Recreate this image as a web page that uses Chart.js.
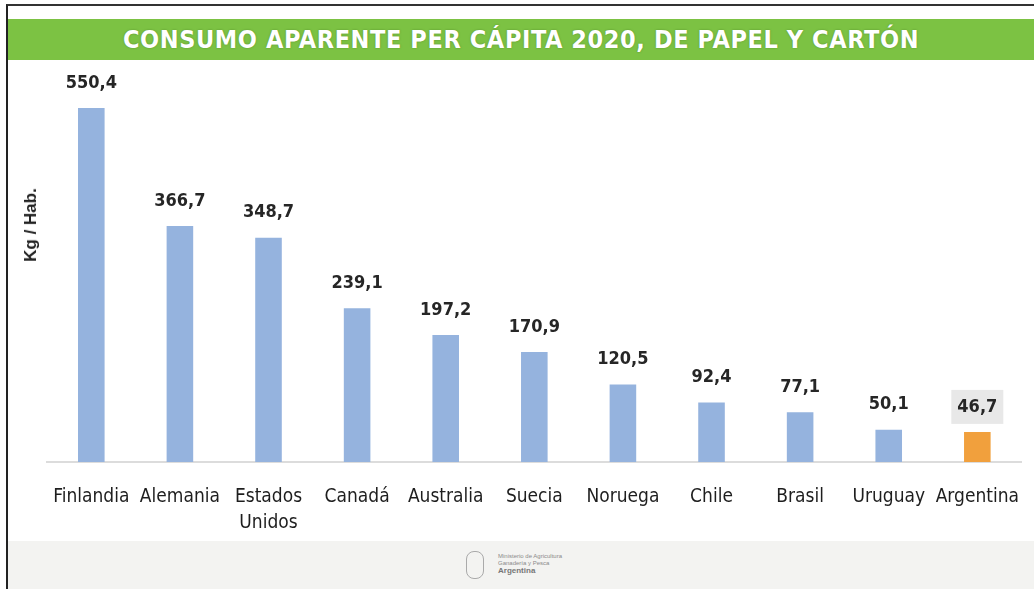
<!DOCTYPE html>
<html>
<head>
<meta charset="utf-8">
<script src="https://cdn.jsdelivr.net/npm/chart.js@4.4.1/dist/chart.umd.min.js"></script>
<style>
  html, body { margin: 0; padding: 0; background: #fff; }
  body { width: 1034px; height: 589px; position: relative; overflow: hidden; }
  #frame { position: absolute; left: 6px; top: 4px; width: 1040px; height: 600px;
           border-left: 2px solid #222; border-top: 2px solid #333; }
  #band { position: absolute; left: 8px; top: 19px; width: 1026px; height: 41px;
          background: #7cc243; color: #fff; text-align: center;
          font: bold 25px "Liberation Sans Narrow", "DejaVu Sans Condensed", sans-serif;
          line-height: 41px; letter-spacing: 0.6px;
          text-shadow: 0 0 2px rgba(60,110,30,0.6); }
  #footer { position: absolute; left: 8px; top: 541px; width: 1026px; height: 48px;
            background: #f3f3f1; z-index: 2; }
  #logo { position: absolute; left: 458px; top: 8px; width: 130px; height: 34px;
          color: #8a8a8a; font: 6px "Liberation Sans", sans-serif; }
  #logo .ico { position: absolute; left: 0; top: 2px; width: 16px; height: 26px;
               border: 1px solid #aaa; border-radius: 8px; }
  #logo .txt { position: absolute; left: 32px; top: 4px; line-height: 7px; }
  #logo b { font-size: 8px; color: #777; }
  #wrap { position: absolute; left: 8px; top: 62px; width: 1033px; height: 496px; }
  #ylab { position: absolute; left: 31px; top: 225px; transform: translate(-50%, -50%) rotate(-90deg);
          font: bold 17px "Liberation Sans", sans-serif; color: #222; white-space: nowrap; }
</style>
</head>
<body>
<div id="frame"></div>
<div id="band">CONSUMO APARENTE PER CÁPITA 2020, DE PAPEL Y CARTÓN</div>
<div id="wrap"><canvas id="chart" width="1033" height="496"></canvas></div>
<div id="ylab">Kg / Hab.</div>
<div id="footer">
  <div id="logo"><div class="ico"></div>
    <div class="txt">Ministerio de Agricultura<br>Ganadería y Pesca<br><b>Argentina</b></div>
  </div>
</div>
<script>
const paises = ['Finlandia', 'Alemania', ['Estados', 'Unidos'], 'Canadá', 'Australia', 'Suecia',
                'Noruega', 'Chile', 'Brasil', 'Uruguay', 'Argentina'];
const consumo = [550.4, 366.7, 348.7, 239.1, 197.2, 170.9, 120.5, 92.4, 77.1, 50.1, 46.7];
const colores = ['#95b3de', '#95b3de', '#95b3de', '#95b3de', '#95b3de', '#95b3de',
                 '#95b3de', '#95b3de', '#95b3de', '#95b3de', '#f1a03d'];

// etiquetas de valor arriba de cada barra
const valorPlugin = {
  id: 'valores',
  afterDatasetsDraw(chart) {
    const ctx = chart.ctx;
    const meta = chart.getDatasetMeta(0);
    ctx.save();
    ctx.font = 'bold 18px "DejaVu Sans Condensed", "Liberation Sans", sans-serif';
    ctx.textAlign = 'center';
    ctx.textBaseline = 'middle';
    meta.data.forEach((bar, i) => {
      const txt = consumo[i].toFixed(1).replace('.', ',');
      const y = bar.y - 25;
      if (i === consumo.length - 1) {
        ctx.fillStyle = '#e8e8e8';
        ctx.fillRect(bar.x - 26, y - 17, 52, 34);
      }
      ctx.fillStyle = '#262626';
      ctx.fillText(txt, bar.x, y);
    });
    ctx.restore();
  }
};

new Chart(document.getElementById('chart'), {
  type: 'bar',
  data: {
    labels: paises,
    datasets: [{
      data: consumo,
      backgroundColor: colores,
      barPercentage: 0.6,
      categoryPercentage: 0.5
    }]
  },
  options: {
    responsive: false,
    animation: false,
    layout: { padding: { left: 39, right: 0, top: 14, bottom: 0 } },
    plugins: { legend: { display: false }, tooltip: { enabled: false } },
    scales: {
      x: {
        grid: { display: false, drawTicks: false },
        border: { display: true, color: '#dcdcdc', width: 2 },
        ticks: {
          padding: 22,
          color: '#1e1e1e',
          maxRotation: 0,
          autoSkip: false,
          font: { size: 19, family: '"DejaVu Sans Condensed", sans-serif', lineHeight: 1.37 }
        }
      },
      y: {
        display: false,
        min: 0,
        max: 600
      }
    }
  },
  plugins: [valorPlugin]
});
</script>
</body>
</html>
